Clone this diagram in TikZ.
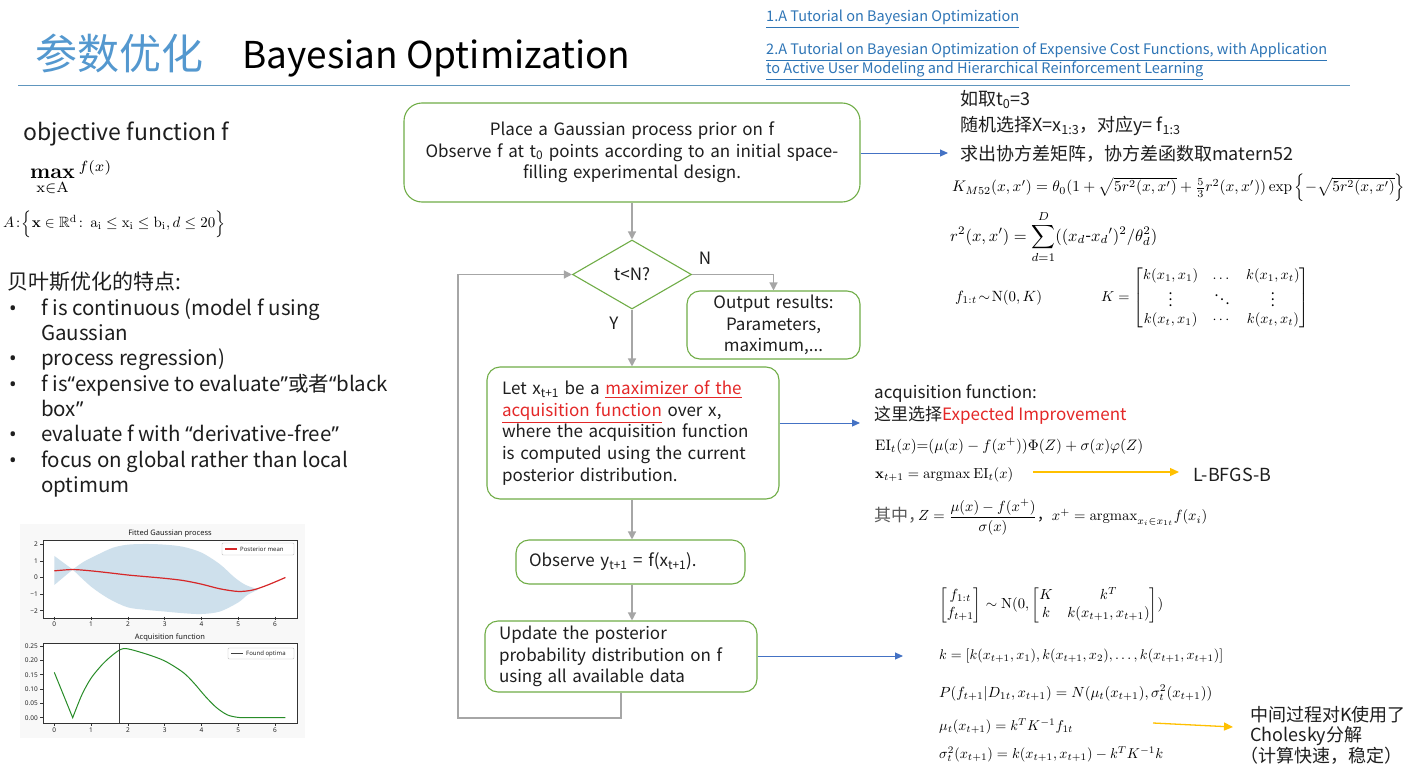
\documentclass[tikz,border=0pt]{standalone}
\usepackage{amsmath,amssymb}
\usepackage{graphicx}
\usepackage[no-math]{fontspec}
\setmainfont{Noto Sans CJK SC}
\newfontfamily\latinf{Noto Sans}
\usetikzlibrary{arrows.meta,shapes.geometric}
\newcommand\setfs[2]{\fontsize{#1}{#2}\selectfont}
\definecolor{titleblue}{RGB}{84,152,207}
\definecolor{linkblue}{RGB}{46,117,182}
\definecolor{rulecol}{RGB}{96,150,190}
\definecolor{boxgreen}{RGB}{112,173,71}
\definecolor{arrgray}{RGB}{166,166,166}
\definecolor{arrblue}{RGB}{68,114,196}
\definecolor{arryellow}{RGB}{255,192,0}
\definecolor{txt}{RGB}{30,30,30}
\definecolor{eired}{RGB}{228,40,40}
\definecolor{bandblue}{RGB}{206,224,236}
\definecolor{meanred}{RGB}{214,39,40}
\definecolor{acqgreen}{RGB}{40,140,40}
\definecolor{plotbg}{RGB}{248,248,248}
\begin{document}
\begin{tikzpicture}[x=1pt,y=-1pt,
  tx/.style={text=txt, inner sep=0pt},
  mx/.style={text=black, inner sep=0pt},
  fbox/.style={draw=boxgreen, line width=1.1pt, rounded corners=13pt, fill=white, text=txt, font=\setfs{17}{21.7}},
  garrow/.style={draw=arrgray, line width=1.3pt, -{Triangle[length=8pt,width=8pt]}},
  barrow/.style={draw=arrblue, line width=1pt, -{Triangle[length=8pt,width=7pt]}},
  yarrow/.style={draw=arryellow, line width=1.3pt, -{Triangle[length=9pt,width=8pt]}},
  tick/.style={font=\latinf\setfs{6.5}{7}, text=black!85, inner sep=0pt},
  ptitle/.style={font=\latinf\setfs{7.5}{8}, text=black!90, inner sep=0pt}]
\useasboundingbox (0,0) rectangle (1416,776);
\fill[white] (0,0) rectangle (1416,776);

% ---------- title ----------
\node[anchor=base west, text=titleblue, font=\setfs{42}{50}, inner sep=0pt] (t1) at (35,70) {参数优化};
\node[anchor=base west, text=black, font=\setfs{37}{40}, inner sep=0pt] (t2) at (242,69) {Bayesian Optimization};
\coordinate (rl) at (18,85);
\coordinate (rr) at (1350,85);
\draw[rulecol, line width=1pt] (rl) -- (rr);

% ---------- links ----------
\node[anchor=base west, text=linkblue, font=\setfs{14.5}{19}, inner sep=0pt] (l1) at (766,22) {\underline{1.A Tutorial on Bayesian Optimization}};
\node[anchor=base west, text=linkblue, font=\setfs{14.5}{19}, inner sep=0pt] (l2) at (766,55) {\underline{2.A Tutorial on Bayesian Optimization of Expensive Cost Functions, with Application}};
\node[anchor=base west, text=linkblue, font=\setfs{14.5}{19}, inner sep=0pt] (l3) at (766,74) {\underline{to Active User Modeling and Hierarchical Reinforcement Learning}};

% ---------- left text ----------
\node[tx, anchor=base west, font=\setfs{23}{26}] (obj) at (23,140) {objective function f};
\node[mx, anchor=west] (maxf) at (30,178) {\resizebox{82pt}{!}{$\mathop{\mathbf{max}}\limits_{\mathrm{x}\in\mathrm{A}}{}^{f(x)}$}};
\node[mx, anchor=west] (setA) at (3,224) {\resizebox{222pt}{!}{$A\!:\!\Bigl\{\mathbf{x}\in\mathbb{R}^{\mathrm{d}}\!:\ \mathrm{a}_{\mathrm{i}}\le\mathrm{x}_{\mathrm{i}}\le\mathrm{b}_{\mathrm{i}}, d\le 20\Bigr\}$}};
\node[tx, anchor=base west, font=\setfs{21}{25}] (feat) at (7,289) {贝叶斯优化的特点:};
\foreach \yy/\nm in {315/b1,365.6/b2,391/b3,441.5/b4,467/b5}
  \node[tx, anchor=base west, font=\latinf\setfs{20}{25}] (\nm) at (9,\yy) {•};
\node[tx, anchor=base west, font=\setfs{20.5}{25}] (f1) at (41,315) {f is continuous (model f using};
\node[tx, anchor=base west, font=\setfs{20.5}{25}] (f2) at (41,340.3) {Gaussian};
\node[tx, anchor=base west, font=\setfs{20.5}{25}] (f3) at (41,365.6) {process regression)};
\node[tx, anchor=base west, font=\setfs{20.5}{25}] (f4) at (41,391) {f is{\latinf “}expensive to evaluate{\latinf ”}或者{\latinf “}black};
\node[tx, anchor=base west, font=\setfs{20.5}{25}] (f5) at (41,416.2) {box{\latinf ”}};
\node[tx, anchor=base west, font=\setfs{20.5}{25}] (f6) at (41,441.5) {evaluate f with {\latinf “}derivative-free{\latinf ”}};
\node[tx, anchor=base west, font=\setfs{20.5}{25}] (f7) at (41,467) {focus on global rather than local};
\node[tx, anchor=base west, font=\setfs{20.5}{25}] (f8) at (41,492) {optimum};

% ---------- plots ----------
\fill[plotbg] (20,524) rectangle (305,738);
\fill[white] (43,540) rectangle (297,618);
\fill[white] (43,643) rectangle (297,723);
\begin{scope}[shift={(54.3,577.5)}, x=36.8pt, y=16.6pt]
  \fill[bandblue] (0,1.3) -- (0.5,0.48) -- plot[smooth] coordinates {(0.5,0.48)(0.8,0.95)(1.2,1.4)(1.6,1.8)(2,1.98)(2.5,2.02)(3,1.98)(3.5,1.85)(4,1.5)(4.5,0.8)(4.9,0.0)(5.2,-0.45)(5.55,-0.72)} -- plot[smooth] coordinates {(5.55,-0.72)(5.25,-1.05)(5,-1.5)(4.5,-2.05)(4,-2.2)(3.5,-2.15)(3,-2.05)(2.5,-1.95)(2,-1.8)(1.5,-1.3)(1,-0.55)(0.5,0.48)} -- (0,-0.45) -- cycle;
  \draw[meanred, line width=1.2pt] plot[smooth] coordinates {(0,0.4)(0.5,0.48)(1,0.4)(1.5,0.28)(2,0.15)(2.5,0.05)(3,-0.05)(3.5,-0.18)(4,-0.4)(4.5,-0.68)(5,-0.84)(5.4,-0.75)(5.8,-0.45)(6.28,0)};
  \foreach \u in {0,...,6} {
    \draw[black!80, line width=0.5pt] (\u,-2.35) -- ++(0,-3pt);
    \node[tick, anchor=north] (xt\u) at ([yshift=-5pt]\u,-2.35) {\u};
  }
  \foreach \v/\lab in {-2/−2,-1/−1,0/0,1/1,2/2} {
    \draw[black!80, line width=0.5pt] (-0.307,\v) -- ++(-3pt,0);
    \node[tick, anchor=east] (yt\v) at ([xshift=-5pt]-0.307,\v) {\lab};
  }
\end{scope}
\draw[black!80, line width=0.6pt] (43,540) rectangle (297,618);
\node[ptitle] (pt1) at (170,534) {Fitted Gaussian process};
\draw[black!25, fill=white, line width=0.4pt, rounded corners=1pt] (222,543) rectangle (294,555);
\draw[meanred, line width=1.2pt] (225,549) -- (237,549);
\node[tick, anchor=west, font=\latinf\setfs{6}{7}] (lg1) at (240,549) {Posterior mean};

\begin{scope}[shift={(54.3,717.7)}, x=36.8pt, y=286.8pt]
  \draw[acqgreen, line width=1pt] (0,0.158) -- (0.5,0.0) -- plot[smooth] coordinates {(0.5,0)(0.75,0.08)(1,0.138)(1.3,0.185)(1.55,0.215)(1.8,0.238)(2,0.24)(2.5,0.222)(3,0.198)(3.5,0.158)(3.8,0.12)(4.1,0.075)(4.4,0.036)(4.7,0.01)(5,0.001)(5.3,0)} -- (6.28,0);
  \draw[black!75, line width=1.2pt] (1.78,-0.0185) -- (1.78,0.2605);
  \foreach \u in {0,...,6} {
    \draw[black!80, line width=0.5pt] (\u,-0.0185) -- ++(0,-3pt);
    \node[tick, anchor=north] (xb\u) at ([yshift=-5pt]\u,-0.0185) {\u};
  }
  \foreach \v/\lab/\nm in {0/0.00/a,0.05/0.05/b,0.1/0.10/c,0.15/0.15/d,0.2/0.20/e,0.25/0.25/f} {
    \draw[black!80, line width=0.5pt] (-0.307,\v) -- ++(-3pt,0);
    \node[tick, anchor=east] (yb\nm) at ([xshift=-5pt]-0.307,\v) {\lab};
  }
\end{scope}
\draw[black!80, line width=0.6pt] (43,643) rectangle (297,723);
\node[ptitle] (pt2) at (170,638) {Acquisition function};
\draw[black!25, fill=white, line width=0.4pt, rounded corners=1pt] (228,648) rectangle (294,659);
\draw[black!75, line width=1.2pt] (231,653.5) -- (243,653.5);
\node[tick, anchor=west, font=\latinf\setfs{6}{7}] (lg2) at (246,653.5) {Found optima};

% ---------- flowchart ----------
\node[fbox, rounded corners=18pt, minimum width=456pt, minimum height=99pt, text width=440pt, align=center, inner sep=0pt] (box1) at (632,152.5)
  {Place a Gaussian process prior on f\\Observe f at t\textsubscript{0} points according to an initial space-\\filling experimental design.};
\node[diamond, draw=boxgreen, line width=1.1pt, minimum width=119pt, minimum height=69pt, inner sep=0pt, text=txt, font=\setfs{17}{20}] (dia) at (632,274.5) {t<N?};
\node[fbox, minimum width=173pt, minimum height=68pt, text width=160pt, align=center, inner xsep=6pt] (out) at (773.5,325) {Output results:\\Parameters,\\maximum,...};
\node[fbox, minimum width=292pt, minimum height=132pt, text width=262pt, align=left, inner xsep=15pt] (box3) at (633,433)
  {Let x\textsubscript{t+1} be a {\color{eired}\underline{maximizer of the}}\\{\color{eired}\underline{acquisition function}} over x,\\where the acquisition function\\is computed using the current\\posterior distribution.};
\node[fbox, minimum width=229pt, minimum height=44pt, text width=203pt, align=left, inner xsep=13pt] (box4) at (630.5,562)
  {Observe y\textsubscript{t+1} = f(x\textsubscript{t+1}).};
\node[fbox, minimum width=272pt, minimum height=71pt, text width=244pt, align=left, inner xsep=14pt] (box5) at (621,656.5)
  {Update the posterior\\probability distribution on f\\using all available data};

\node[tx, font=\setfs{17}{20}] (lN) at (705,258) {N};
\node[tx, font=\setfs{17}{20}] (lY) at (614,323) {Y};

\draw[garrow] (box1.south -| dia.north) -- (dia.north);
\draw[garrow] (dia.east) -| (out.north);
\draw[garrow] (dia.south) -- (box3.north -| dia.south);
\draw[garrow] (box3.south -| dia.south) -- (box4.north -| dia.south);
\draw[garrow] (box4.south -| dia.south) -- (box5.north -| dia.south);
\coordinate (lp1) at (621,718);
\coordinate (lp2) at (458,718);
\draw[garrow] (box5.south) -- (lp1) -- (lp2) |- (dia.west);

% blue connectors
\coordinate (e1) at (948,153);
\coordinate (e3) at (860,423);
\coordinate (e5) at (903,656);
\draw[barrow] (box1.east |- e1) -- (e1);
\draw[barrow] (box3.east |- e3) -- (e3);
\draw[barrow] (box5.east |- e5) -- (e5);

% ---------- right top ----------
\node[tx, anchor=base west, font=\setfs{18}{22}] (r1) at (960,105) {如取t\textsubscript{0}=3};
\node[tx, anchor=base west, font=\setfs{18}{22}] (r2) at (960,131) {随机选择X=x\textsubscript{1:3}，对应y= f\textsubscript{1:3}};
\node[tx, anchor=base west, font=\setfs{18}{22}] (r3) at (960,160) {求出协方差矩阵，协方差函数取matern52};
\node[mx, anchor=west] (kf) at (952,188) {\resizebox{453pt}{!}{$K_{M52}(x,x')=\theta_0(1+\sqrt{5r^2(x,x')}+\frac{5}{3}r^2(x,x'))\exp\left\{-\sqrt{5r^2(x,x')}\right\}$}};
\node[mx, anchor=west] (rf) at (950,237) {\resizebox{207pt}{!}{$\displaystyle r^2(x,x')=\sum_{d=1}^{D}((x_d\text{-}x_d{}')^2/\theta_d^2)$}};
\node[mx, anchor=west] (ff) at (955,298) {\resizebox{87pt}{!}{$f_{1:t}\!\sim\!\mathrm{N}(0,K)$}};
\node[mx, anchor=west] (km) at (1101,298) {\resizebox{208pt}{!}{$K=\begin{bmatrix} k(x_1,x_1) & \dots & k(x_1,x_t)\\ \vdots & \ddots & \vdots\\ k(x_t,x_1) & \cdots & k(x_t,x_t)\end{bmatrix}$}};

% ---------- acquisition ----------
\node[tx, anchor=base west, font=\setfs{17}{21}] (a1) at (874,398) {acquisition function:};
\node[tx, anchor=base west, font=\setfs{17}{21}] (a2) at (874,420) {这里选择{\color{eired}Expected Improvement}};
\node[mx, anchor=west] (ei) at (875,446) {\resizebox{268pt}{!}{$\mathrm{EI}_t(x){=}(\mu(x)-f(x^{+}))\Phi(Z)+\sigma(x)\varphi(Z)$}};
\node[mx, anchor=west] (xn) at (875,475) {\resizebox{138pt}{!}{$\mathbf{x}_{t+1}=\mathrm{argmax}\ \mathrm{EI}_t(x)$}};
\node[tx, anchor=base west, font=\setfs{18}{22}] (lb) at (1193,481) {L-BFGS-B};
\coordinate (ya1) at (1033,472);
\coordinate (yb1) at (1179,472);
\draw[yarrow] (ya1) -- (yb1);
\node[tx, anchor=base west, font=\setfs{17}{21}, text=black!65] (qz) at (874,521) {其中，};
\node[mx, anchor=west] (zf) at (918,517) {\resizebox{289pt}{!}{$Z=\dfrac{\mu(x)-f(x^{+})}{\sigma(x)}$，$x^{+}=\mathrm{argmax}_{x_i\in x_{1t}}f(x_i)$}};

% ---------- update block ----------
\node[mx, anchor=west] (mv) at (939,605) {\resizebox{224pt}{!}{$\begin{bmatrix} f_{1:t}\\ f_{t+1}\end{bmatrix}\sim\mathrm{N}(0,\begin{bmatrix}K & k^T\\ k & k(x_{t+1},x_{t+1})\end{bmatrix})$}};
\node[mx, anchor=west] (kv) at (939,656) {\resizebox{284pt}{!}{$k=[k(x_{t+1},x_1),k(x_{t+1},x_2),\dots,k(x_{t+1},x_{t+1})]$}};
\node[mx, anchor=west] (pp) at (939,693) {\resizebox{273pt}{!}{$P(f_{t+1}|D_{1t},x_{t+1})=N(\mu_t(x_{t+1}),\sigma_t^2(x_{t+1}))$}};
\node[mx, anchor=west] (mu) at (939,726) {\resizebox{134pt}{!}{$\mu_t(x_{t+1})=k^TK^{-1}f_{1t}$}};
\node[mx, anchor=west] (sg) at (939,754) {\resizebox{224pt}{!}{$\sigma_t^2(x_{t+1})=k(x_{t+1},x_{t+1})-k^TK^{-1}k$}};
\node[tx, anchor=base west, font=\setfs{18}{20}] (c1) at (1250,721) {中间过程对K使用了};
\node[tx, anchor=base west, font=\setfs{18}{20}] (c2) at (1250,741) {Cholesky分解};
\node[tx, anchor=base west, font=\setfs{18}{20}] (c3) at (1240,762) {（计算快速，稳定）};
\coordinate (ya2) at (1153,723);
\coordinate (yb2) at (1233,727);
\draw[yarrow] (ya2) -- (yb2);
\end{tikzpicture}
\end{document}
